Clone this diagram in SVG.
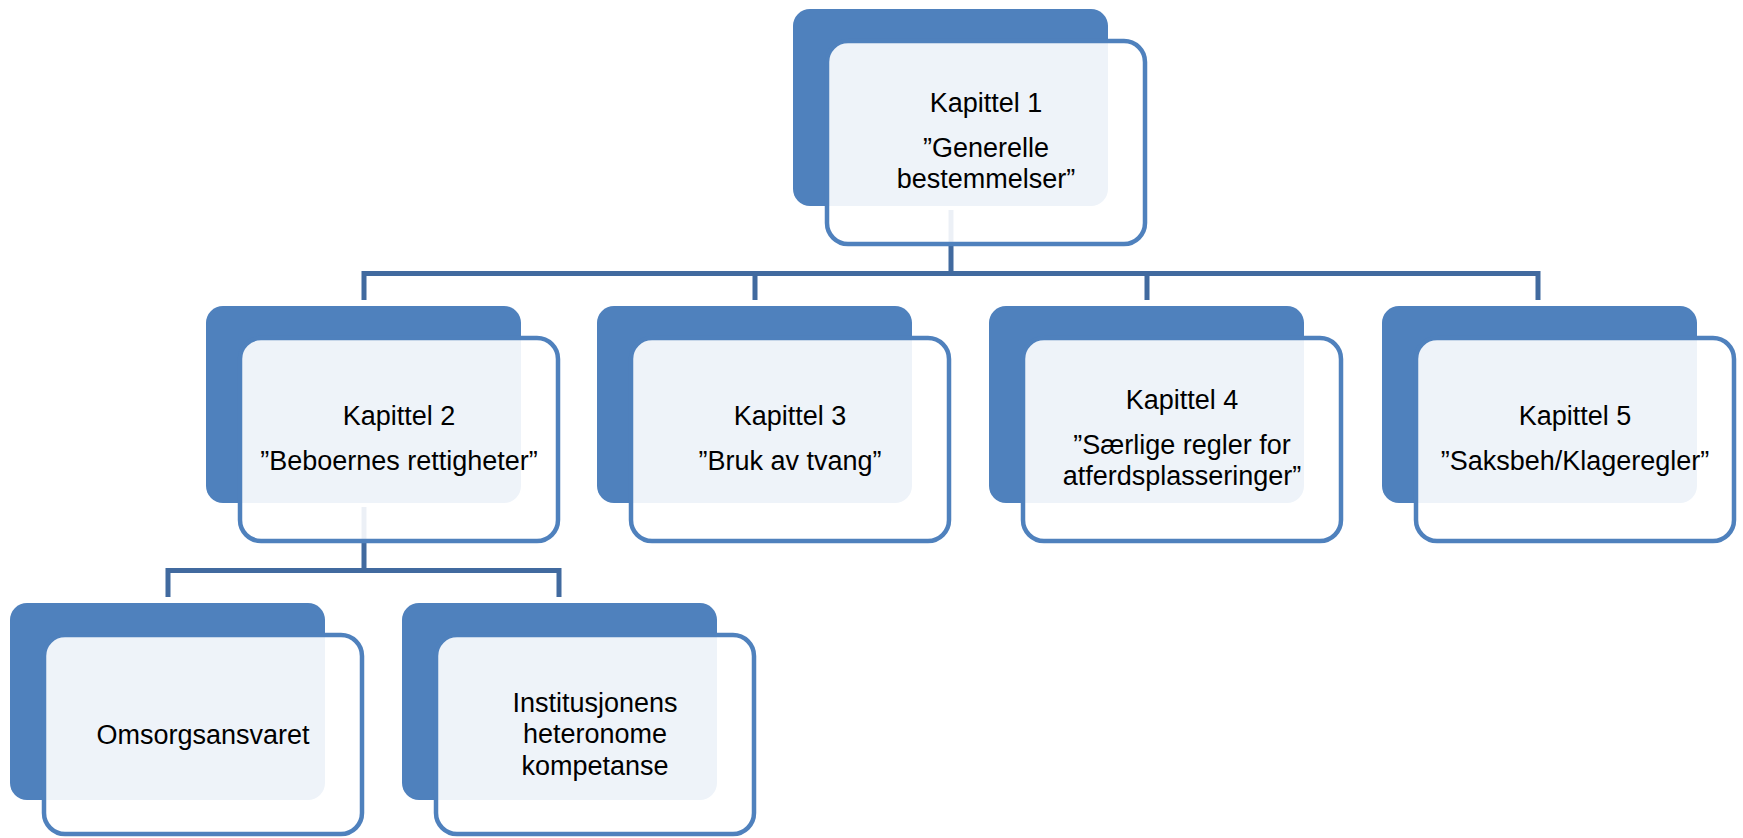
<svg xmlns="http://www.w3.org/2000/svg" width="1743" height="838" viewBox="0 0 1743 838">
<style>
.bg{fill:#4F81BD}
.fr{fill:#FFFFFF;fill-opacity:0.9;stroke:#4F81BD;stroke-width:4.5}
.t{font-family:"Liberation Sans",Arial,sans-serif;font-size:27px;fill:#000000;text-anchor:middle}
.c{fill:none;stroke:#416A9F;stroke-width:5;stroke-linejoin:miter;stroke-linecap:butt}
</style>
<rect x="0" y="0" width="1743" height="838" fill="#FFFFFF"/>
<g id="connectors">
<path class="c" d="M951,210 V273.5 M361.5,273.5 H1540.5 M364,271 V300 M755,273.5 V300 M1147,273.5 V300 M1538,271 V300"/>
<path class="c" d="M364,507 V570.5 M165.5,570.5 H561.5 M168,568 V597 M559,568 V597"/>
</g>
<g id="node1">
<rect class="bg" x="793" y="9" width="315" height="197" rx="17"/>
<rect class="fr" x="827" y="41" width="318" height="203" rx="21"/>
<text class="t" x="986" y="112">Kapittel 1</text>
<text class="t" x="986" y="157">”Generelle</text>
<text class="t" x="986" y="188">bestemmelser”</text>
</g>
<g id="node2">
<rect class="bg" x="206" y="306" width="315" height="197" rx="17"/>
<rect class="fr" x="240" y="338" width="318" height="203" rx="21"/>
<text class="t" x="399" y="425">Kapittel 2</text>
<text class="t" x="399" y="470">”Beboernes rettigheter”</text>
</g>
<g id="node3">
<rect class="bg" x="597" y="306" width="315" height="197" rx="17"/>
<rect class="fr" x="631" y="338" width="318" height="203" rx="21"/>
<text class="t" x="790" y="425">Kapittel 3</text>
<text class="t" x="790" y="470">”Bruk av tvang”</text>
</g>
<g id="node4">
<rect class="bg" x="989" y="306" width="315" height="197" rx="17"/>
<rect class="fr" x="1023" y="338" width="318" height="203" rx="21"/>
<text class="t" x="1182" y="409">Kapittel 4</text>
<text class="t" x="1182" y="454">”Særlige regler for</text>
<text class="t" x="1182" y="485">atferdsplasseringer”</text>
</g>
<g id="node5">
<rect class="bg" x="1382" y="306" width="315" height="197" rx="17"/>
<rect class="fr" x="1416" y="338" width="318" height="203" rx="21"/>
<text class="t" x="1575" y="425">Kapittel 5</text>
<text class="t" x="1575" y="470">”Saksbeh/Klageregler”</text>
</g>
<g id="node6">
<rect class="bg" x="10" y="603" width="315" height="197" rx="17"/>
<rect class="fr" x="44" y="635" width="318" height="199" rx="21"/>
<text class="t" x="203" y="744">Omsorgsansvaret</text>
</g>
<g id="node7">
<rect class="bg" x="402" y="603" width="315" height="197" rx="17"/>
<rect class="fr" x="436" y="635" width="318" height="199" rx="21"/>
<text class="t" x="595" y="712">Institusjonens</text>
<text class="t" x="595" y="743">heteronome</text>
<text class="t" x="595" y="775">kompetanse</text>
</g>
</svg>
